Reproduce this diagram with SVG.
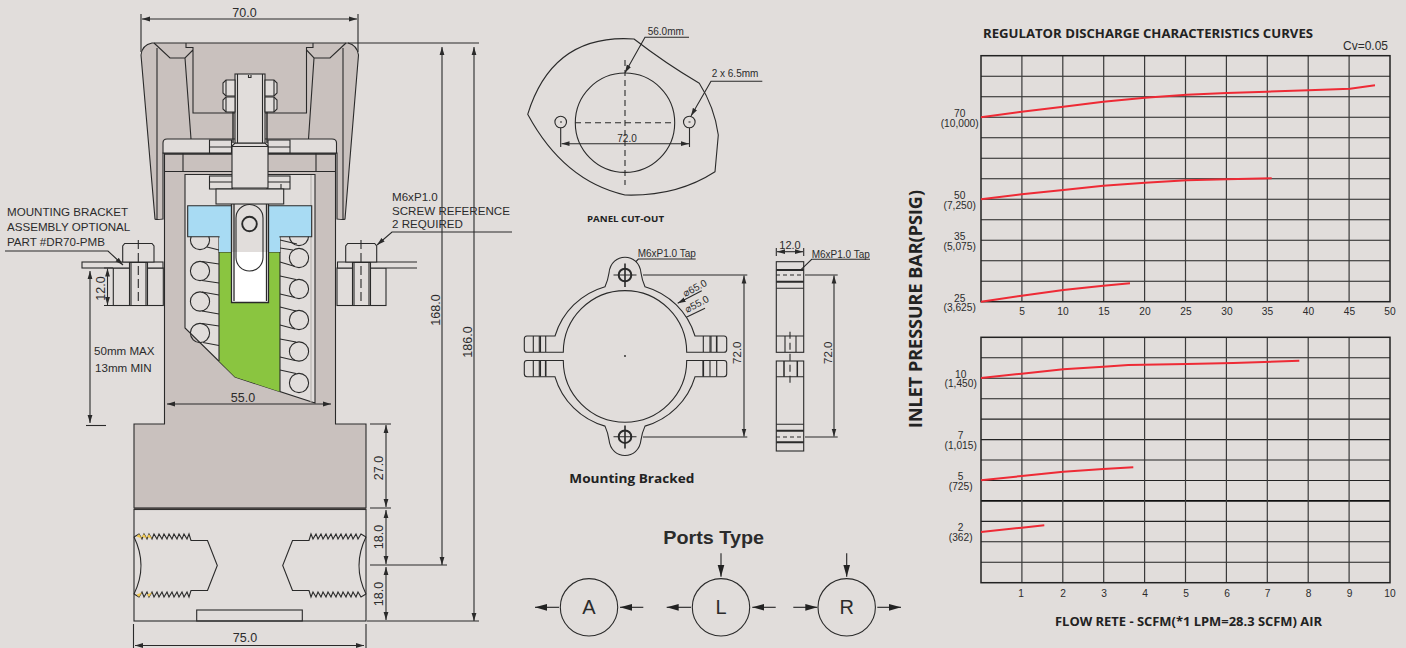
<svg xmlns="http://www.w3.org/2000/svg" xmlns:xlink="http://www.w3.org/1999/xlink" width="1406" height="648" viewBox="0 0 1406 648">
<style>
text{font-family:"Liberation Sans",Arial,sans-serif;fill:#2b2b2b}
.l{fill:none;stroke:#2a2a2a;stroke-width:1.1}
.t{fill:none;stroke:#2a2a2a;stroke-width:2}
.g{fill:#c9c1be;stroke:#2a2a2a;stroke-width:1.1}
.b{fill:#e1dddb;stroke:#2a2a2a;stroke-width:1.1}
.d{fill:none;stroke:#2a2a2a;stroke-width:1.1;stroke-dasharray:6 4}
.a{fill:none;stroke:#2a2a2a;stroke-width:1.1;marker-end:url(#ah)}
.aa{fill:none;stroke:#2a2a2a;stroke-width:1.1;marker-start:url(#ahs);marker-end:url(#ah)}
.p{fill:none;stroke:#222;stroke-width:1.1;marker-end:url(#ap)}
.dim{font-size:12.5px;text-anchor:middle}
.sm{font-size:10px}
.lab{font-size:11.6px}
.hb{font-family:"Open Sans","Noto Sans",sans-serif;font-weight:700;fill:#222}
.tick{font-size:10.2px;text-anchor:middle}
.gv{stroke:#3a3a3a;stroke-width:1.2;fill:none}
.gd{stroke:#222;stroke-width:1.1;fill:none}
.r{fill:none;stroke:#ee2a35;stroke-width:2;stroke-linejoin:round}
.port{font-size:20px;text-anchor:middle}
</style>
<defs>
<marker id="ah" markerWidth="9" markerHeight="6" refX="8" refY="3" orient="auto" markerUnits="userSpaceOnUse"><path d="M0,0.6 L8,3 L0,5.4Z" fill="#2a2a2a"/></marker>
<marker id="ahs" markerWidth="9" markerHeight="6" refX="0" refY="3" orient="auto" markerUnits="userSpaceOnUse"><path d="M8,0.6 L0,3 L8,5.4Z" fill="#2a2a2a"/></marker>
<marker id="ap" markerWidth="13" markerHeight="8" refX="12" refY="4" orient="auto" markerUnits="userSpaceOnUse"><path d="M0,0.6 L12,4 L0,7.4Z" fill="#222"/></marker>
<path id="thread" class="l" d="M134,537 L139,534 142,539 144,534 147,539 149,534 152,539 154,534 157,539 159,534 162,539 164,534 167,539 169,534 172,539 174,534 177,539 179,534 182,539 184,534 187,539 189,534 191,540.5 H207.5 L217.3,565.5 207.5,590.5 H191 L189,597 187,592 184,597 182,592 179,597 177,592 174,597 172,592 169,597 167,592 164,597 162,592 159,597 157,592 154,597 152,592 149,597 147,592 144,597 142,592 139,597 134,594 M134,537 Q148,565.5 134,594"/>
<path id="halfring" class="b" d="M527,336 H555 A72.8,72.8 0 0 1 605,286.7 Q608,280 609,273 C611,252 639,252 641,273 Q642,280 645,286.7 A72.8,72.8 0 0 1 695,336 H724 Q726.7,336 726.7,339 V349.5 Q726.7,352.3 724,352.3 H686.7 A61.7,61.7 0 0 0 563.3,352.3 H527 Q524.3,352.3 524.3,349.5 V339 Q524.3,336 527,336Z"/>
</defs>
<rect width="1406" height="648" fill="#e1dddb"/>

<g id="regulator-body">
<path class="g" d="M141,55 Q142,45 152,43 H348 Q357,45 358.5,55 L345,219 Q344,220 337,219 V153 H163 V219 Q156,220 155,219Z"/>
<path class="l" d="M157,48 V219 M343,48 V219 M154,43 L170,58 H185 L193,50 V47.5 H186 V43 M346,43 L330,58 H314 L306.5,50 V47.5 H313 V43 M185,58 L191,139 M314,58 L308.5,139 M193,50 V113 H235 M306.5,50 V113 H265"/>
<path class="g" d="M164.5,153 H335.5 V424 H366 V508 H134 V424 H164.5Z"/>
<path class="b" d="M185,174.5 H315 V403 L235,377 L185,328Z"/>
<path class="l" d="M311,175 V402" style="stroke:#b8b2af"/>
<path class="b" d="M163,153 V143 Q163,139 167,139 H332 Q336.5,139 336.5,143 V153Z"/>
<path class="t" d="M165,154 H335" style="stroke-width:1.5"/>
<path class="l" d="M165,171.5 H335 M183,153 V171.5 M316,153 V171.5"/>
<rect class="b" x="209.5" y="140" width="22" height="13"/>
<rect class="b" x="268" y="140" width="22" height="13"/>
<path class="l" d="M209.5,147 H231 M268,147 H290"/>
<rect class="b" x="209.5" y="176" width="23" height="13"/>
<rect class="b" x="267" y="176" width="23" height="13"/>
<path class="l" d="M209.5,182 H232 M268,182 H290 M281,184 V189"/>
<g id="springs">
<circle class="l" cx="200" cy="240" r="9.6"/><circle class="l" cx="200" cy="271" r="9.6"/><circle class="l" cx="200" cy="301.5" r="9.6"/><circle class="l" cx="200" cy="333" r="9.6"/>
<path class="l" d="M207,247 L219,250 M202,261.5 L219,264 M202,280.5 L219,283 M202,292 L219,295 M202,311 L219,314 M202,323.5 L219,326 M203,342.5 L219,345.5"/>
<circle class="l" cx="299" cy="258" r="9.6"/><circle class="l" cx="299" cy="289" r="9.6"/><circle class="l" cx="299" cy="320" r="9.6"/><circle class="l" cx="299" cy="351.5" r="9.6"/><circle class="l" cx="299" cy="383" r="9.6"/><circle class="l" cx="299" cy="236" r="9.6"/>
<path class="l" d="M280,240 L297,244 M280,248 L293,250 M280,262 L295,266.5 M280,276 L296,279.5 M280,294 L295,297.5 M280,307 L296,311 M280,325 L295,329 M280,339 L296,342 M280,357 L295,360.5 M280,370 L296,373.5"/>
</g>
<path fill="#8ac540" d="M219,252 H280 V391.7 L235,377 L219,361Z"/>
<path class="l" d="M219,361 V252 M280,252 V391.7"/>
<path fill="#a8dbf3" stroke="#2a2a2a" stroke-width="1.1" d="M187.7,205.7 H311.7 V236.7 H280 V252 H219 V236.7 H187.7Z"/>
<path fill="#a8dbf3" d="M219,237.5 H280 V252 H219Z"/>
<path class="b" style="stroke:none" d="M231.5,204 H268.5 V252 H231.5Z"/>
<path fill="#fff" d="M231.5,252 H268.5 V303 H231.5Z"/>
<path class="l" d="M231.5,204 V302.5 H268.5 V204 M234,204 V301 M266.5,204 V301" style="stroke-width:1.3"/>
<path class="l" d="M236,218 A13.5,13.5 0 0 1 263,218 V257.5 A13.5,13.5 0 0 1 236,257.5Z"/>
<circle cx="249.5" cy="224" r="7.3" fill="none" stroke="#2a2a2a" stroke-width="1.9"/>
<rect class="b" x="216" y="189" width="67.7" height="15"/>
<path class="b" d="M232,188 V146 L235,143 H265 L268,146 V188Z"/>
<path class="l" d="M232,146.5 H268"/>
<rect class="b" x="235" y="74" width="30" height="69"/>
<path class="l" d="M237.5,74 V143 M262.5,74 V143 M248.5,75 V77.5 H251 V75"/>
<path class="t" d="M233,112 V143 M267,112 V143" style="stroke-width:1.4"/>
<path class="b" d="M235,80 H226 L223,83 V93 L226,96 H235Z"/>
<path class="b" d="M235,97 H226 L223,100 V109 L226,112 H235Z"/>
<path class="b" d="M265,80 H274 L277,83 V93 L274,96 H265Z"/>
<path class="b" d="M265,97 H274 L277,100 V109 L274,112 H265Z"/>
<path class="l" d="M226,80 V96 M226,97 V112 M274,80 V96 M274,97 V112"/>
</g>

<g id="port-block">
<rect class="l" x="134" y="509.5" width="232" height="111.5"/>
<path d="M134,508.5 H366" fill="none" stroke="#4a4543" stroke-width="1.6"/>
<use xlink:href="#thread" href="#thread"/>
<use xlink:href="#thread" href="#thread" transform="translate(500,0) scale(-1,1)"/>
<path fill="#f0c850" d="M139,534 L142,538.5 136.5,536.5Z M144,534 L147,538.5 141.5,536.5Z M149,534 L152,538.5 147,537Z M139,597 L142,592.5 136.5,594.5Z M149,597 L152,592.5 147,594.5Z"/>
<rect class="l" x="196.7" y="610" width="105.6" height="11"/>
</g>

<g id="left-bracket">
<rect class="l" x="113.3" y="268" width="50" height="37.5"/>
<rect class="b" x="82" y="262" width="81" height="6"/>
<path class="b" d="M122.7,262 V246 L124.7,243.5 H152 L154,246 V262Z"/>
<path class="b" d="M129.5,262.5 H147.5 V305.5 H129.5Z"/>
<path class="l" d="M131,262.5 V305.5 M146,262.5 V305.5"/>
<path class="d" d="M138.3,240 V305" style="stroke-dasharray:9 4"/>
</g>
<g id="right-bracket">
<rect class="l" x="337" y="268" width="49" height="37.5"/>
<path class="b" d="M417,262 H337.5 V268 H417"/>
<path class="b" d="M345.7,262 V246 L347.7,243.5 H374.7 L376.7,246 V262Z"/>
<path class="b" d="M352.5,262.5 H370.5 V305.5 H352.5Z"/>
<path class="l" d="M354,262.5 V305.5 M369,262.5 V305.5"/>
<path class="d" d="M361,240 V305" style="stroke-dasharray:9 4"/>
</g>

<g id="connectors">
<path class="l" d="M141,14 V52 M358,14 V52 M348,43 H479"/>
<path class="aa" d="M142,19 H357"/>
<path class="aa" d="M442,47 V565"/>
<path class="aa" d="M474,47 V621"/>
<path class="aa" d="M107.5,268.500 V305"/>
<path class="l" d="M104,305.500 H113 M104,268 H113"/>
<path class="aa" d="M90,271 V423"/>
<path class="l" d="M86,425.500 H106"/>
<path class="aa" d="M167,404 H331"/>
<path class="l" d="M370,424 H391 M370,508 H391 M370,565 H447 M367,621 H479"/>
<path class="aa" d="M386,425 V507"/>
<path class="aa" d="M386,510 V564"/>
<path class="aa" d="M386,567 V620"/>
<path class="l" d="M133.500,624 V648 M366,624 V648"/>
<path class="aa" d="M135,645.500 H364"/>
<path class="a" d="M5,251 H108 L123,265"/>
<path class="a" d="M512,232 H392 L377,245"/>
<path class="a" d="M689,37.300 H645 L625,72.700"/>
<path class="a" d="M762.300,81.300 H711 L691,116"/>
<path class="l" d="M560.700,128 V147 M689.500,128 V147"/>
<path class="aa" d="M561.500,143.700 H689"/>
<path class="a" d="M695.700,259 H638.300 L627,271"/>
<path class="l" d="M870,259.300 H811.700 L800,270.700"/>
<path class="a" d="M701.700,290.700 L677.700,303.300"/>
<path class="a" d="M705,308.300 L679,320.700"/>
<path class="l" d="M643,275 H747.300 M643,437 H747.300 M805,275 H837.700 M805,437 H837.700 M776.300,248 V256 M803.700,248 V256"/>
<path class="aa" d="M744,275.500 V436.500"/>
<path class="aa" d="M834,275.500 V436.500"/>
<path class="aa" d="M777,251.700 H803"/>
<path class="p" d="M559,607.300 H535"/>
<path class="p" d="M643.300,607.300 H620"/>
<path class="p" d="M691,607.300 H666.700"/>
<path class="p" d="M775.700,607.300 H752.300"/>
<path class="p" d="M721,553.300 V576.700"/>
<path class="p" d="M793.300,607.300 H817.300"/>
<path class="p" d="M877.300,607.300 H901"/>
<path class="p" d="M846.700,553.300 V576.700"/>
</g>

<g id="left-labels">
<text class="dim" x="244.500" y="16.500">70.0</text>
<text class="dim" transform="rotate(-90 439.500 310)" x="439.500" y="310">168.0</text>
<text class="dim" transform="rotate(-90 472 342)" x="472" y="342">186.0</text>
<text class="dim" transform="rotate(-90 105 288.500)" x="105" y="288.500">12.0</text>
<text class="dim" x="243" y="401.700">55.0</text>
<text class="dim" transform="rotate(-90 383 468)" x="383" y="468">27.0</text>
<text class="dim" transform="rotate(-90 383 537)" x="383" y="537">18.0</text>
<text class="dim" transform="rotate(-90 383 594)" x="383" y="594">18.0</text>
<text class="dim" x="245" y="641.700">75.0</text>
<text class="lab" x="7" y="216">MOUNTING BRACKET</text>
<text class="lab" x="7" y="231">ASSEMBLY OPTIONAL</text>
<text class="lab" x="7" y="245.500">PART #DR70-PMB</text>
<text class="lab" x="392" y="201">M6xP1.0</text>
<text class="lab" x="392" y="215">SCREW REFERENCE</text>
<text class="lab" x="392" y="228">2 REQUIRED</text>
<text class="lab" x="94" y="355">50mm MAX</text>
<text class="lab" x="95" y="371.700">13mm MIN</text>
</g>

<g id="panel-cutout">
<path class="l" d="M527.700,114.300 Q552.600,33.400 634,39 Q665,63 699.300,83.300 Q714.600,107.400 718.300,135 L715,171.700 Q676.600,196.600 625,195 Q563.600,181 527.700,114.300Z"/>
<circle class="l" cx="625" cy="122.700" r="49.700"/>
<circle class="l" cx="560.700" cy="122" r="5.800"/>
<circle class="l" cx="689.300" cy="122" r="5.800"/>
<path class="d" d="M625,60 V185 M575,122.700 H675"/>
<path class="l" d="M560,122 H562 M688.500,122 H690.500"/>
<text class="sm" x="627" y="141.700" text-anchor="middle">72.0</text>
<text class="sm" x="647.700" y="35">56.0mm</text>
<text class="sm" x="711.700" y="77.300">2 x 6.5mm</text>
<text class="hb" x="587" y="221.700" font-size="9.500" textLength="77" lengthAdjust="spacingAndGlyphs">PANEL CUT-OUT</text>
</g>

<g id="mounting-bracket">
<use xlink:href="#halfring" href="#halfring"/>
<use xlink:href="#halfring" href="#halfring" transform="translate(0,712.800) scale(1,-1)"/>
<path class="l" d="M533.300,336 V352 M539.300,336 V352 M545.700,336 V352 M703.300,336 V352 M710,336 V352 M533.300,361 V376.500 M539.300,361 V376.500 M703.300,361 V376.500 M710,361 V376.500 M716.700,361 V376.500"/>
<path class="l" d="M540.500,336 V352 M540.500,361 V376.500 M711,336 V352"/>
<path class="t" d="M716.700,336 V352 M545.700,361 V376.500 M703.300,361 V376.500" style="stroke-width:1.6"/>
<circle cx="625" cy="275" r="6.300" fill="none" stroke="#2a2a2a" stroke-width="2"/>
<circle cx="625" cy="436.700" r="6.300" fill="none" stroke="#2a2a2a" stroke-width="2"/>
<path class="l" d="M613.500,275 H636.500 M613.500,436.700 H636.500"/>
<path class="t" d="M625,263.500 V287 M625,425.500 V448.500" style="stroke-width:1.600"/>
<circle cx="625" cy="356" r="0.900" fill="#222"/>
<text class="sm" x="637.700" y="256.700">M6xP1.0 Tap</text>
<text class="sm" transform="rotate(-28 696.500 291)" x="696.500" y="291" text-anchor="middle">⌀65.0</text>
<text class="sm" transform="rotate(-28 698.500 307)" x="698.500" y="307" text-anchor="middle">⌀55.0</text>
<text class="dim" style="font-size:11.500px" transform="rotate(-90 741 352.700)" x="741" y="352.700">72.0</text>
<text class="hb" x="569.300" y="483.300" font-size="13" textLength="125" lengthAdjust="spacingAndGlyphs">Mounting Bracked</text>
</g>

<g id="bracket-side">
<rect class="l" x="776.300" y="261.700" width="27.400" height="90.600"/>
<rect class="l" x="776.300" y="361" width="27.400" height="90"/>
<path class="t" d="M776.300,270 H803.700 M776.300,281.700 H803.700 M776.300,430.700 H803.700 M776.300,442.300 H803.700"/>
<path class="l" d="M776.300,288.300 H803.700 M776.300,336 H803.700 M776.300,376.700 H803.700 M776.300,424.300 H803.700 M785,336 V352 M796,336 V352"/>
<path class="t" d="M784,361 V376.700 M797.300,361 V376.700" style="stroke-width:1.500"/>
<path class="d" d="M776,275 H804 M776,437 H804" style="stroke-dasharray:4 3"/>
<path class="d" d="M790,331.700 V383.300" style="stroke-dasharray:7 4"/>
<text class="dim" style="font-size:11px" x="790" y="249">12.0</text>
<text class="sm" x="811.700" y="257.700">M6xP1.0 Tap</text>
<text class="dim" style="font-size:11.500px" transform="rotate(-90 832 352.700)" x="832" y="352.700">72.0</text>
</g>

<g id="port-a"><circle class="l" cx="589" cy="607.300" r="28.700"/><text class="port" x="589" y="614.300">A</text></g>
<g id="port-l"><circle class="l" cx="721" cy="607.300" r="28.700"/><text class="port" x="721" y="614.300">L</text></g>
<g id="port-r"><circle class="l" cx="846.700" cy="607.300" r="28.700"/><text class="port" x="846.700" y="614.300">R</text></g>
<text x="663.300" y="544.300" font-size="19" font-weight="700" textLength="100.700" lengthAdjust="spacingAndGlyphs">Ports Type</text>

<g id="chart-upper">
<path class="gd" d="M981,76.200 H1390 M981,96.700 H1390 M981,117.200 H1390 M981,137.700 H1390 M981,158.200 H1390 M981,178.700 H1390 M981,199.200 H1390 M981,219.700 H1390 M981,240.200 H1390 M981,260.700 H1390 M981,281.200 H1390"/>
<path class="gv" d="M1021.900,55.700 V301.700 M1062.800,55.700 V301.700 M1103.700,55.700 V301.700 M1144.600,55.700 V301.700 M1185.500,55.700 V301.700 M1226.400,55.700 V301.700 M1267.300,55.700 V301.700 M1308.200,55.700 V301.700 M1349.100,55.700 V301.700"/>
<rect x="981" y="55.700" width="409" height="246" fill="none" stroke="#222" stroke-width="1.500"/>
<polyline class="r" points="981,117.300 1021.700,111.700 1063.300,106.700 1103.300,101.700 1145,97.700 1186.700,94.700 1226.700,93 1266.700,91.700 1308.300,90.300 1350,88.700 1375,85.300"/>
<polyline class="r" points="981,199.300 1021.700,194.300 1063.300,190 1103.300,185.700 1145,182.700 1186.700,180.300 1226.700,179.300 1271.700,178.300"/>
<polyline class="r" points="981,301.700 1021.700,295.700 1063.300,290 1103.300,285.700 1130,283.300"/>
<text class="tick" x="959.700" y="117.300">70</text><text class="tick" x="959.700" y="126.700">(10,000)</text>
<text class="tick" x="959.700" y="199">50</text><text class="tick" x="959.700" y="208.700">(7,250)</text>
<text class="tick" x="959.700" y="240">35</text><text class="tick" x="959.700" y="250">(5,075)</text>
<text class="tick" x="959.700" y="301.700">25</text><text class="tick" x="959.700" y="310.700">(3,625)</text>
<text class="tick" x="1022" y="315">5</text><text class="tick" x="1063" y="315">10</text><text class="tick" x="1104" y="315">15</text><text class="tick" x="1145" y="315">20</text><text class="tick" x="1186" y="315">25</text><text class="tick" x="1227" y="315">30</text><text class="tick" x="1267.500" y="315">35</text><text class="tick" x="1308.500" y="315">40</text><text class="tick" x="1349.500" y="315">45</text><text class="tick" x="1390" y="315">50</text>
<text x="1388" y="50" font-size="12" text-anchor="end">Cv=0.05</text>
<text class="hb" x="983" y="37.700" font-size="12" textLength="330" lengthAdjust="spacingAndGlyphs">REGULATOR DISCHARGE CHARACTERISTICS CURVES</text>
</g>

<g id="chart-lower">
<path class="gd" d="M981,357.800 H1390 M981,378.200 H1390 M981,398.700 H1390 M981,419.100 H1390 M981,439.600 H1390 M981,460 H1390 M981,480.500 H1390 M981,521.400 H1390 M981,541.800 H1390 M981,562.300 H1390"/>
<path d="M981,500.900 H1390" stroke="#111" stroke-width="1.700" fill="none"/>
<path class="gv" d="M1021.900,337.300 V582.700 M1062.800,337.300 V582.700 M1103.700,337.300 V582.700 M1144.600,337.300 V582.700 M1185.500,337.300 V582.700 M1226.400,337.300 V582.700 M1267.300,337.300 V582.700 M1308.200,337.300 V582.700 M1349.100,337.300 V582.700"/>
<rect x="981" y="337.300" width="409" height="245.400" fill="none" stroke="#222" stroke-width="1.500"/>
<polyline class="r" points="981,378 1021.700,373.700 1063.300,369.300 1103.300,366.700 1128.300,365 1186.700,364 1233.300,363 1299.300,360.700"/>
<polyline class="r" points="981,480.300 1021.700,476 1063.300,471.700 1103.300,469 1133.300,467.300"/>
<polyline class="r" points="981,532 1021.700,527.700 1044.300,525.300"/>
<text class="tick" x="960.700" y="377.700">10</text><text class="tick" x="960.700" y="387.300">(1,450)</text>
<text class="tick" x="960.700" y="439">7</text><text class="tick" x="960.700" y="448.700">(1,015)</text>
<text class="tick" x="960.700" y="480">5</text><text class="tick" x="960.700" y="489.700">(725)</text>
<text class="tick" x="960.700" y="531">2</text><text class="tick" x="960.700" y="540.700">(362)</text>
<text class="tick" x="1021" y="596.700">1</text><text class="tick" x="1063" y="596.700">2</text><text class="tick" x="1104" y="596.700">3</text><text class="tick" x="1145" y="596.700">4</text><text class="tick" x="1186" y="596.700">5</text><text class="tick" x="1227" y="596.700">6</text><text class="tick" x="1267.500" y="596.700">7</text><text class="tick" x="1308.500" y="596.700">8</text><text class="tick" x="1349.500" y="596.700">9</text><text class="tick" x="1390" y="596.700">10</text>
<text class="hb" x="1055" y="625.700" font-size="12" textLength="267" lengthAdjust="spacingAndGlyphs">FLOW RETE - SCFM(*1 LPM=28.3 SCFM) AIR</text>
</g>
<text class="hb" transform="rotate(-90 922 428)" x="922" y="428" font-size="18" textLength="238" lengthAdjust="spacingAndGlyphs">INLET PRESSURE BAR(PSIG)</text>
</svg>
